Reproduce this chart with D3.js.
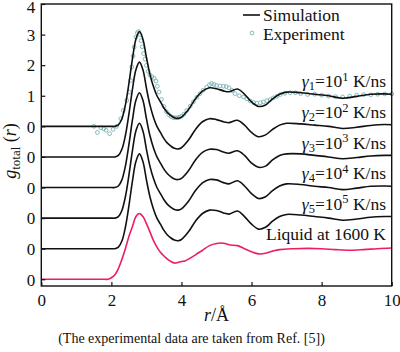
<!DOCTYPE html>
<html>
<head>
<meta charset="utf-8">
<script src="https://d3js.org/d3.v7.min.js"></script>
<style>
  body { margin: 0; background: white; }
  svg { font-family: 'Liberation Serif', 'Times New Roman', serif; }
</style>
</head>
<body>
<div class="content"></div>
<script>
// r grid shared by the cooling-rate curves
const rSim = [0, 2.0, 2.1, 2.2, 2.3, 2.4, 2.5, 2.6, 2.7, 2.8, 2.9, 3.0, 3.1, 3.2, 3.3, 3.4, 3.5, 3.6, 3.7, 3.8, 3.9, 4.0,
    4.2, 4.4, 4.6, 4.8, 5.0, 5.2, 5.35, 5.6, 5.8, 6.0, 6.2, 6.4, 6.6, 6.8, 7.0, 7.4, 7.8, 8.2, 8.6, 9.0, 9.4, 9.8, 10]
const gamma1 = [0, 0, 0, 0.05, 0.25, 0.7, 1.4, 2.2, 2.85, 3.1, 2.85, 2.25, 1.7, 1.3, 1.0, 0.8, 0.6, 0.45, 0.35, 0.28, 0.26, 0.3,
    0.55, 0.9, 1.15, 1.26, 1.23, 1.16, 1.13, 1.22, 1.05, 0.8, 0.65, 0.7, 0.9, 1.05, 1.12, 1.1, 1.05, 1.0, 0.92, 0.98, 1.05, 1.06, 1.05]
const gamma2 = [0, 0, 0, 0.05, 0.25, 0.7, 1.4, 2.2, 2.85, 3.1, 2.85, 2.25, 1.7, 1.3, 1.0, 0.8, 0.6, 0.45, 0.35, 0.28, 0.26, 0.3,
    0.55, 0.9, 1.15, 1.25, 1.22, 1.15, 1.12, 1.2, 1.04, 0.8, 0.66, 0.72, 0.9, 1.04, 1.1, 1.08, 1.04, 1.0, 0.93, 0.97, 1.03, 1.06, 1.05]
const gamma3 = [0, 0, 0, 0.05, 0.25, 0.7, 1.4, 2.2, 2.85, 3.1, 2.85, 2.25, 1.7, 1.3, 1.0, 0.8, 0.6, 0.45, 0.35, 0.28, 0.26, 0.3,
    0.55, 0.9, 1.15, 1.25, 1.24, 1.16, 1.12, 1.2, 1.05, 0.8, 0.66, 0.7, 0.9, 1.05, 1.1, 1.1, 1.05, 1.0, 0.94, 0.98, 1.03, 1.05, 1.05]
const gamma4 = [0, 0, 0, 0.05, 0.25, 0.7, 1.4, 2.2, 2.85, 3.1, 2.85, 2.25, 1.7, 1.3, 1.0, 0.8, 0.6, 0.45, 0.35, 0.28, 0.26, 0.3,
    0.55, 0.9, 1.15, 1.26, 1.25, 1.16, 1.12, 1.22, 1.05, 0.8, 0.64, 0.7, 0.9, 1.05, 1.12, 1.1, 1.04, 1.0, 0.93, 0.98, 1.04, 1.05, 1.04]
const gamma5 = [0, 0, 0, 0.05, 0.25, 0.7, 1.4, 2.2, 2.85, 3.1, 2.85, 2.25, 1.7, 1.3, 1.0, 0.8, 0.6, 0.45, 0.35, 0.28, 0.26, 0.3,
    0.55, 0.9, 1.15, 1.26, 1.25, 1.17, 1.13, 1.23, 1.05, 0.8, 0.64, 0.7, 0.9, 1.05, 1.12, 1.1, 1.05, 1.0, 0.93, 0.97, 1.03, 1.05, 1.05]

// liquid at 1600 K
const rLiquid = [0, 1.8, 1.9, 2.0, 2.1, 2.2, 2.3, 2.4, 2.5, 2.6, 2.7, 2.8, 2.9, 3.0, 3.1, 3.2, 3.3, 3.4, 3.5, 3.6, 3.7, 3.8, 3.9,
    4.0, 4.1, 4.2, 4.4, 4.6, 4.8, 5.0, 5.2, 5.4, 5.6, 5.8, 6.0, 6.2, 6.4, 6.6, 6.8, 7.2, 7.6, 8.0, 8.4, 8.8, 9.2, 9.6, 10]
const gLiquid = [0, 0, 0, 0.05, 0.15, 0.35, 0.65, 1.0, 1.4, 1.72, 2.05, 2.15, 2.05, 1.82, 1.55, 1.27, 1.05, 0.88, 0.76, 0.66, 0.58, 0.53, 0.55,
    0.58, 0.6, 0.66, 0.8, 0.95, 1.1, 1.17, 1.18, 1.12, 1.1, 1.0, 0.9, 0.83, 0.85, 0.92, 0.97, 1.0, 1.01, 1.0, 0.97, 0.95, 0.97, 1.0, 1.02]

// experiment (Ref. [5]), drawn on the top curve
const rExp = [1.5, 1.6, 1.7, 1.78, 1.85, 1.95, 2.05, 2.15, 2.27, 2.34, 2.44, 2.51, 2.55, 2.58, 2.62, 2.65, 2.7, 2.74, 2.78, 2.82,
    2.85, 2.88, 2.92, 2.96, 3.0, 3.05, 3.1, 3.16, 3.22, 3.27, 3.31, 3.36, 3.43, 3.5, 3.57, 3.64, 3.7, 3.76, 3.82, 3.88, 3.94,
    4.0, 4.07, 4.15, 4.25, 4.34, 4.44, 4.53, 4.62, 4.72, 4.8, 4.86, 4.93, 5.0, 5.1, 5.2, 5.28, 5.36, 5.45, 5.53, 5.65, 5.77,
    5.87, 5.96, 6.06, 6.15, 6.25, 6.34, 6.44, 6.53, 6.62, 6.72, 6.82, 6.95, 7.1, 7.25, 7.4, 7.6, 7.8, 8.0, 8.2, 8.4, 8.6,
    8.8, 9.0, 9.2, 9.4, 9.6, 9.8, 10.0]
const gExp = [0.0, -0.2, -0.05, -0.08, -0.13, -0.24, -0.1, 0.0, 0.25, 0.52, 0.85, 1.12, 1.5, 1.94, 2.3, 2.59, 2.92, 3.06, 3.1, 3.0,
    2.8, 2.6, 2.38, 2.2, 1.99, 1.8, 1.68, 1.62, 1.57, 1.48, 1.31, 1.12, 0.88, 0.65, 0.48, 0.38, 0.32, 0.29, 0.28, 0.28, 0.3,
    0.33, 0.4, 0.52, 0.66, 0.8, 0.95, 1.07, 1.18, 1.28, 1.36, 1.4, 1.37, 1.34, 1.32, 1.31, 1.3, 1.26, 1.17, 1.07, 1.0, 0.96,
    0.9, 0.83, 0.78, 0.76, 0.77, 0.8, 0.84, 0.87, 0.93, 0.98, 1.04, 1.08, 1.1, 1.1, 1.07, 1.04, 1.05, 1.02, 0.99, 0.97, 0.96,
    0.99, 1.02, 1.04, 1.03, 1.05, 1.06, 1.06]

// curves stacked with an offset of 1 each
const curveNames = ['g1', 'g2', 'g3', 'g4', 'g5', 'liquid']
const curveOffsets = [5, 4, 3, 2, 1, 0]
const curveSub = ['1', '2', '3', '4', '5', '']
const curveExp = ['1', '2', '3', '4', '5', '']
const yTickValues = [0, 1, 2, 3, 4, 5, 6, 7, 8, 9]
const yTickLabels = ['0', '0', '0', '0', '0', '0', '1', '2', '3', '4']
const xTickValues = [0, 2, 4, 6, 8, 10]

const width = 400
const height = 352
const plotLeft = 41.3
const plotRight = 391.7
const plotTop = 4
const plotBottom = 286
const black = '#111'
const pink = '#ec1f5e'
const teal = '#7ab2b4'

let x = d3.scaleLinear().domain([0, 10]).range([plotLeft, plotRight])
let y = d3.scaleLinear().domain([-0.22, 9]).range([plotBottom, plotTop])

let svg = d3.select('div.content')
    .append('svg')
    .attr('width', width)
    .attr('height', height)

let simSeries = [gamma1, gamma2, gamma3, gamma4, gamma5]
let series = simSeries.map((vals, i) => ({
    name: curveNames[i],
    offset: curveOffsets[i],
    points: rSim.map((r, j) => [r, vals[j]])
}))
series.push({name: 'liquid', offset: 0, points: rLiquid.map((r, j) => [r, gLiquid[j]])})

let line = d3.line()
    .x(d => x(d[0]))
    .y(d => y(d[1]))
    .curve(d3.curveCatmullRom.alpha(0.5))

// experiment circles first so the line sits on top
svg.append('g')
    .selectAll('circle')
    .data(rExp.map((r, i) => [r, gExp[i] + 5]))
    .join('circle')
    .attr('cx', d => x(d[0]))
    .attr('cy', d => y(d[1]))
    .attr('r', 1.9)
    .attr('fill', 'none')
    .attr('stroke', teal)
    .attr('stroke-width', 0.9)

svg.append('g')
    .selectAll('path')
    .data(series)
    .join('path')
    .attr('d', s => line(s.points.map(p => [p[0], p[1] + s.offset])))
    .attr('fill', 'none')
    .attr('stroke', s => s.name === 'liquid' ? pink : black)
    .attr('stroke-width', 1.6)

// axes, ticks pointing inward
let xAxis = d3.axisBottom(x).tickValues(xTickValues).tickSize(-4).tickPadding(8)
let yAxis = d3.axisLeft(y).tickValues(yTickValues).tickSize(-4).tickPadding(6)
    .tickFormat((d, i) => yTickLabels[i])

svg.append('g')
    .attr('transform', `translate(0, ${plotBottom})`)
    .call(xAxis)
    .call(g => g.select('.domain').remove())
svg.append('g')
    .attr('class', 'y-axis')
    .attr('transform', `translate(${plotLeft}, 0)`)
    .call(yAxis)
    .call(g => g.select('.domain').remove())
svg.selectAll('.tick text')
    .attr('font-family', 'Liberation Serif')
    .attr('font-size', 17)
    .attr('fill', black)
// top label would touch the edge, nudge it down a little
svg.selectAll('.y-axis .tick text')
    .attr('dy', (d) => d === 9 ? '0.52em' : '0.34em')
svg.selectAll('.tick line')
    .attr('stroke', black)
    .attr('stroke-width', 1.2)

svg.append('rect')
    .attr('x', plotLeft)
    .attr('y', plotTop)
    .attr('width', plotRight - plotLeft)
    .attr('height', plotBottom - plotTop)
    .attr('fill', 'none')
    .attr('stroke', black)
    .attr('stroke-width', 1.4)

// curve labels
series.forEach((s, i) => {
    let t = svg.append('text')
        .attr('x', 386)
        .attr('y', y(s.offset + 1.27))
        .attr('text-anchor', 'end')
        .attr('font-size', 17.5)
        .attr('fill', black)
    if (s.name === 'liquid') {
        t.text('Liquid at 1600 K')
        return
    }
    t.append('tspan').attr('font-style', 'italic').text('γ')
    t.append('tspan').attr('font-size', 12.5).attr('dy', 3).text(curveSub[i])
    t.append('tspan').attr('dy', -3).text('=10')
    t.append('tspan').attr('font-size', 12.5).attr('dy', -6.5).text(curveExp[i])
    t.append('tspan').attr('dy', 6.5).text(' K/ns')
})

// legend
svg.append('line')
    .attr('x1', 243).attr('x2', 260)
    .attr('y1', 15).attr('y2', 15)
    .attr('stroke', black)
    .attr('stroke-width', 1.6)
svg.append('circle')
    .attr('cx', 252).attr('cy', 33).attr('r', 1.9)
    .attr('fill', 'none')
    .attr('stroke', teal)
    .attr('stroke-width', 0.9)
svg.append('text').attr('x', 263).attr('y', 21).attr('font-size', 17.5).attr('fill', black).text('Simulation')
svg.append('text').attr('x', 263).attr('y', 40).attr('font-size', 17.5).attr('fill', black).text('Experiment')

// axis titles
let xt = svg.append('text')
    .attr('x', (plotLeft + plotRight) / 2)
    .attr('y', 321)
    .attr('text-anchor', 'middle')
    .attr('font-size', 18)
    .attr('fill', black)
xt.append('tspan').attr('font-style', 'italic').text('r')
xt.append('tspan').text('/Å')

let yt = svg.append('text')
    .attr('transform', `translate(16, 151) rotate(-90)`)
    .attr('text-anchor', 'middle')
    .attr('font-size', 18)
    .attr('fill', black)
yt.append('tspan').attr('font-style', 'italic').text('g')
yt.append('tspan').attr('font-size', 13).attr('dy', 4).text('total')
yt.append('tspan').attr('dy', -4).text(' (')
yt.append('tspan').attr('font-style', 'italic').text('r')
yt.append('tspan').text(')')

svg.append('text')
    .attr('x', 191.5)
    .attr('y', 343)
    .attr('text-anchor', 'middle')
    .attr('font-size', 14)
    .attr('fill', black)
    .text('(The experimental data are taken from Ref. [5])')
</script>
</body>
</html>
